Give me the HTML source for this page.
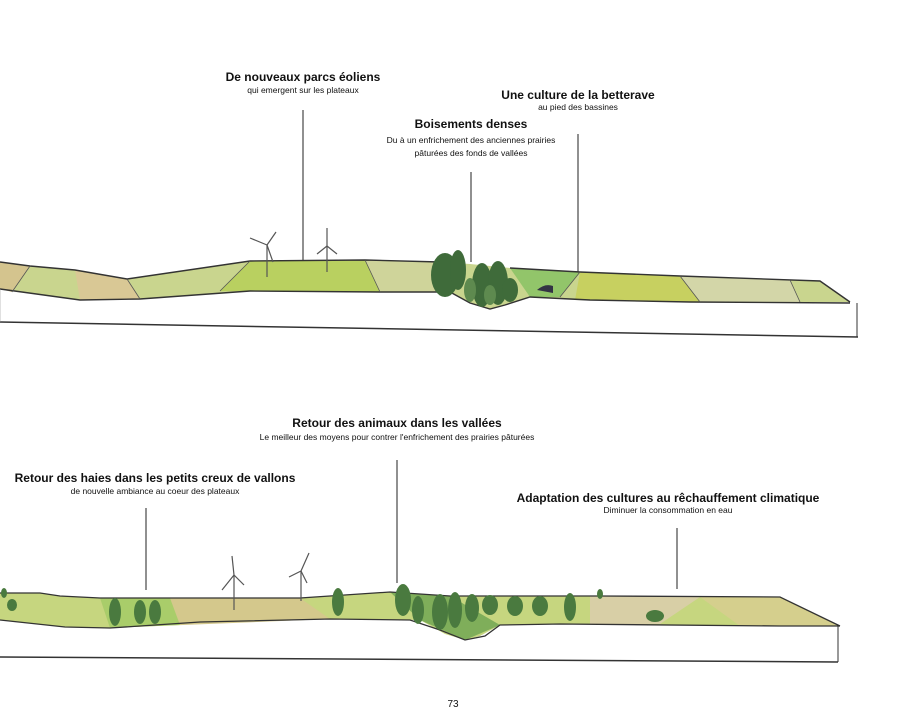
<!DOCTYPE html>
<html><head><meta charset="utf-8">
<style>
html,body{margin:0;padding:0;background:#fff;width:900px;height:714px;overflow:hidden}
svg{display:block}
text{font-family:"Liberation Sans",sans-serif;fill:#111}
.t{font-size:12px;font-weight:bold}
.s{font-size:8.5px}
</style></head><body>
<svg width="900" height="714" viewBox="0 0 900 714" xmlns="http://www.w3.org/2000/svg">
<!-- TOP LABELS -->
<text class="t" x="303" y="81" text-anchor="middle">De nouveaux parcs éoliens</text>
<text class="s" x="303" y="93" text-anchor="middle">qui emergent sur les plateaux</text>
<text class="t" x="578" y="99" text-anchor="middle">Une culture de la betterave</text>
<text class="s" x="578" y="110" text-anchor="middle">au pied des bassines</text>
<text class="t" x="471" y="128" text-anchor="middle">Boisements denses</text>
<text class="s" x="471" y="143" text-anchor="middle">Du à un enfrichement des anciennes prairies</text>
<text class="s" x="471" y="156" text-anchor="middle">pâturées des fonds de vallées</text>
<g stroke="#222" stroke-width="1">
<line x1="303" y1="110" x2="303" y2="261"/>
<line x1="471" y1="172" x2="471" y2="262"/>
<line x1="578" y1="134" x2="578" y2="273"/>
</g>
<!-- TOP TERRAIN -->
<polygon points="0,262 30,266 75,270 127,279 250,261 365,260 440,262 470,264 510,268 580,272 680,276 820,281 850,302 690,302 590,300 530,297 505,305 490,309 470,303 450,292 380,292 250,291 140,299 80,300 0,289" fill="#c9d58e"/>
<polygon points="0,262 30,266 12,292 0,289" fill="#d4c48e"/>
<polygon points="75,270 127,279 140,299 80,300" fill="#d9c895"/>
<polygon points="250,261 365,260 380,292 220,291" fill="#b9d060"/>
<polygon points="365,260 440,262 450,292 380,292" fill="#cfd49a"/>
<polygon points="580,272 680,276 700,302 575,300" fill="#c7d060"/>
<polygon points="510,268 580,272 560,297 530,297" fill="#92c56a"/>
<polygon points="680,276 790,280 800,302 700,302" fill="#d3d6a8"/>
<polyline points="0,262 30,266 75,270 127,279 250,261 365,260 440,262" fill="none" stroke="#333" stroke-width="1.4"/>
<polyline points="510,268 580,272 680,276 820,281 850,302" fill="none" stroke="#333" stroke-width="1.4"/>
<polyline points="0,289 80,300 140,299 250,291 380,292 450,292 470,303 490,309 505,305 530,297 590,300 690,302 850,303" fill="none" stroke="#333" stroke-width="1.4"/>
<g stroke="#555" stroke-width="0.8">
<line x1="30" y1="266" x2="12" y2="292"/><line x1="127" y1="279" x2="140" y2="299"/>
<line x1="250" y1="261" x2="220" y2="291"/><line x1="365" y1="260" x2="380" y2="292"/>
<line x1="580" y1="272" x2="560" y2="297"/><line x1="680" y1="276" x2="700" y2="302"/>
<line x1="790" y1="280" x2="800" y2="302"/>
</g>
<!-- trees top -->
<g fill="#3f6b3a">
<ellipse cx="445" cy="275" rx="14" ry="22"/><ellipse cx="458" cy="270" rx="8" ry="20"/>
<ellipse cx="482" cy="285" rx="10" ry="22"/><ellipse cx="498" cy="283" rx="10" ry="22"/>
<ellipse cx="510" cy="290" rx="8" ry="12"/>
</g>
<g fill="#5e8a4f"><ellipse cx="470" cy="290" rx="6" ry="12"/><ellipse cx="490" cy="295" rx="6" ry="10"/></g>
<path d="M537,290 Q545,283 553,286 L553,293 Z" fill="#334"/>
<!-- base box top -->
<line x1="0" y1="322" x2="858" y2="337" stroke="#333" stroke-width="1.5"/>
<line x1="857" y1="303" x2="857" y2="337" stroke="#333" stroke-width="1"/>
<line x1="0" y1="289" x2="0" y2="322" stroke="#999" stroke-width="0.6"/>
<!-- turbines top -->
<g stroke="#555" stroke-width="1.2" fill="none">
<line x1="267" y1="245" x2="267" y2="277"/><line x1="267" y1="245" x2="276" y2="232"/><line x1="267" y1="245" x2="250" y2="238"/><line x1="267" y1="245" x2="273" y2="262"/>
<line x1="327" y1="246" x2="327" y2="272"/><line x1="327" y1="246" x2="327" y2="228"/><line x1="327" y1="246" x2="317" y2="254"/><line x1="327" y1="246" x2="337" y2="254"/>
</g>

<!-- BOTTOM LABELS -->
<text class="t" x="397" y="427" text-anchor="middle">Retour des animaux dans les vallées</text>
<text class="s" x="397" y="440" text-anchor="middle">Le meilleur des moyens pour contrer l'enfrichement des prairies pâturées</text>
<text class="t" x="155" y="482" text-anchor="middle">Retour des haies dans les petits creux de vallons</text>
<text class="s" x="155" y="494" text-anchor="middle">de nouvelle ambiance au coeur des plateaux</text>
<text class="t" x="668" y="502" text-anchor="middle">Adaptation des cultures au rêchauffement climatique</text>
<text class="s" x="668" y="513" text-anchor="middle">Diminuer la consommation en eau</text>
<g stroke="#222" stroke-width="1">
<line x1="146" y1="508" x2="146" y2="590"/>
<line x1="397" y1="460" x2="397" y2="583"/>
<line x1="677" y1="528" x2="677" y2="589"/>
</g>
<!-- BOTTOM TERRAIN -->
<polygon points="0,593 40,593 60,596 100,598 300,598 390,592 450,596 600,596 780,597 840,626 780,626 560,624 500,625 480,636 465,640 445,634 420,620 330,619 200,622 110,628 65,627 0,620" fill="#c6d67f"/>
<polygon points="100,598 300,598 330,619 110,628" fill="#d4c88c"/>
<polygon points="100,598 170,598 180,625 110,628" fill="#a9cd6a"/>
<polygon points="590,596 700,597 660,624 590,624" fill="#d8cfa6"/>
<polygon points="700,597 780,597 840,626 740,626" fill="#d5cf8d"/>
<polygon points="390,592 450,596 500,625 465,640 420,620" fill="#7fae5a"/>
<polyline points="0,593 40,593 60,596 100,598 300,598 390,592 450,596 600,596 780,597 840,626" fill="none" stroke="#333" stroke-width="1.3"/>
<polyline points="0,620 65,627 110,628 200,622 330,619 410,620 440,630 465,640 485,636 500,625 560,624 780,626 840,626" fill="none" stroke="#333" stroke-width="1.3"/>
<g fill="#4a7a3f">
<ellipse cx="115" cy="612" rx="6" ry="14"/><ellipse cx="140" cy="612" rx="6" ry="12"/><ellipse cx="155" cy="612" rx="6" ry="12"/>
<ellipse cx="338" cy="602" rx="6" ry="14"/><ellipse cx="403" cy="600" rx="8" ry="16"/><ellipse cx="418" cy="610" rx="6" ry="14"/>
<ellipse cx="440" cy="612" rx="8" ry="18"/><ellipse cx="455" cy="610" rx="7" ry="18"/><ellipse cx="472" cy="608" rx="7" ry="14"/>
<ellipse cx="490" cy="605" rx="8" ry="10"/><ellipse cx="515" cy="606" rx="8" ry="10"/><ellipse cx="540" cy="606" rx="8" ry="10"/>
<ellipse cx="570" cy="607" rx="6" ry="14"/><ellipse cx="4" cy="593" rx="3" ry="5"/><ellipse cx="12" cy="605" rx="5" ry="6"/>
<ellipse cx="655" cy="616" rx="9" ry="6"/><ellipse cx="600" cy="594" rx="3" ry="5"/>
</g>
<!-- base box bottom -->
<line x1="0" y1="657" x2="838" y2="662" stroke="#333" stroke-width="1.5"/>
<line x1="838" y1="626" x2="838" y2="662" stroke="#333" stroke-width="1"/>
<!-- turbines bottom -->
<g stroke="#555" stroke-width="1.2" fill="none">
<line x1="234" y1="575" x2="234" y2="610"/><line x1="234" y1="575" x2="232" y2="556"/><line x1="234" y1="575" x2="222" y2="590"/><line x1="234" y1="575" x2="244" y2="585"/>
<line x1="301" y1="571" x2="301" y2="601"/><line x1="301" y1="571" x2="309" y2="553"/><line x1="301" y1="571" x2="289" y2="577"/><line x1="301" y1="571" x2="307" y2="583"/>
</g>
<text x="453" y="707" text-anchor="middle" style="font-size:10px">73</text>
</svg>
</body></html>
